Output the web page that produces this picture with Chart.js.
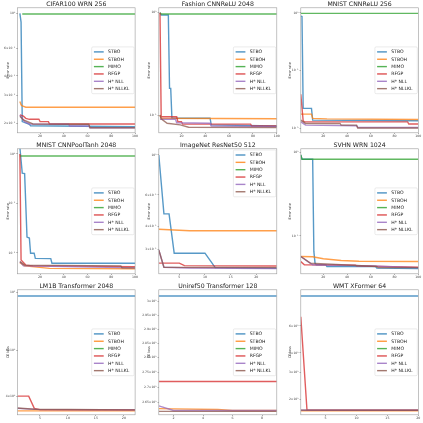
<!DOCTYPE html>
<html>
<head>
<meta charset="utf-8">
<script src="https://cdn.jsdelivr.net/npm/chart.js@4.4.1/dist/chart.umd.min.js"></script>
<style>
    html, body { margin: 0; padding: 0; background: #fff; }
    #grid { position: relative; width: 423px; height: 423px; overflow: hidden; }
    #grid canvas { position: absolute; }
</style>
</head>
<body>
<div id="grid"></div>
<script>
const seriesNames = ['STBO', 'STBOH', 'MIMO', 'RFGP', 'H* NLL', 'H* NLLKL'];
const seriesColors = ['#1f77b4', '#ff7f0e', '#2ca02c', '#d62728', '#9467bd', '#8c564b'];

// [iteration, value] pairs
const cifarStbo = [[3, 1.0], [4, 0.88], [5, 0.205], [11, 0.197], [12, 0.193], [100, 0.19]];
const cifarStboh = [[3, 0.275], [4, 0.262], [5, 0.258], [8, 0.253], [100, 0.253]];
const cifarMimo = [[5, 0.99], [100, 0.99]];
const cifarRfgp = [[3, 0.226], [6, 0.222], [8, 0.215], [11, 0.212], [19, 0.212], [20, 0.205], [27, 0.205], [28, 0.198], [100, 0.198]];
const cifarNll = [[3, 0.226], [7, 0.205], [11, 0.198], [44, 0.197], [45, 0.192], [61, 0.192], [62, 0.1875], [100, 0.1875]];
const cifarNllkl = [[3, 0.222], [6, 0.21], [14, 0.198], [61, 0.197], [62, 0.1875], [100, 0.1875]];

const fashionStbo = [[2, 1.0], [3, 0.95], [9, 0.95], [10, 0.182], [11, 0.182], [12, 0.093], [44, 0.093], [45, 0.08], [100, 0.078]];
const fashionStboh = [[2, 0.1], [3, 0.093], [100, 0.092]];
const fashionMimo = [[2, 1.0], [3, 0.97], [100, 0.97]];
const fashionRfgp = [[2, 1.0], [3, 0.096], [16, 0.096], [17, 0.086], [20, 0.086], [21, 0.0815], [78, 0.0815], [79, 0.078], [100, 0.078]];
const fashionNll = [[2, 0.091], [15, 0.091], [16, 0.084], [44, 0.083], [45, 0.078], [100, 0.077]];
const fashionNllkl = [[2, 0.1], [3, 0.092], [8, 0.083], [19, 0.08], [26, 0.076], [100, 0.0755]];

const mnistReluStbo = [[1, 0.877], [2, 0.86], [3, 0.0222], [10, 0.0222], [11, 0.0139], [100, 0.0136]];
const mnistReluStboh = [[1, 0.0177], [10, 0.0177], [11, 0.0149], [23, 0.0146], [100, 0.0143]];
const mnistReluMimo = [[1, 0.976], [100, 0.976]];
const mnistReluRfgp = [[1, 0.039], [3, 0.0135], [4, 0.013], [91, 0.013], [92, 0.0119], [100, 0.0119]];
const mnistReluNll = [[1, 0.013], [5, 0.0114], [48, 0.0111], [49, 0.0104], [100, 0.0104]];
const mnistReluNllkl = [[1, 0.0139], [5, 0.0122], [34, 0.0122], [35, 0.0114], [48, 0.0114], [49, 0.0102], [100, 0.0102]];

const mnistTanhStbo = [[3, 1.35], [5, 0.41], [7, 0.4], [9, 0.021], [11, 0.02], [12, 0.0099], [15, 0.0099], [16, 0.0078], [29, 0.0077], [30, 0.0062], [100, 0.0062]];
const mnistTanhStboh = [[3, 0.0064], [7, 0.0055], [28, 0.0049], [100, 0.0048]];
const mnistTanhMimo = [[3, 0.91], [100, 0.91]];
const mnistTanhRfgp = [[3, 1.0], [4, 0.0072], [8, 0.0057], [14, 0.0055], [100, 0.0053]];
const mnistTanhNll = [[3, 0.0067], [6, 0.0055], [100, 0.005]];
const mnistTanhNllkl = [[3, 0.0067], [7, 0.0057], [88, 0.0055], [89, 0.005], [100, 0.005]];

const imagenetStbo = [[1, 1.0], [2, 0.471], [3, 0.471], [4, 0.285], [10, 0.285], [11, 0.26], [12, 0.237], [24, 0.235]];
const imagenetStboh = [[1, 0.387], [7, 0.38], [24, 0.38]];
const imagenetMimo = [];
const imagenetRfgp = [[1, 0.251], [5, 0.251], [6, 0.243], [24, 0.242]];
const imagenetNll = [[1, 0.297], [2, 0.238], [7, 0.236], [24, 0.234]];
const imagenetNllkl = [[1, 0.297], [2, 0.238], [24, 0.237]];

const svhnStbo = [[1, 0.94], [2, 0.833], [11, 0.833], [12, 0.065], [13, 0.047], [14, 0.045], [22, 0.045], [23, 0.0428], [64, 0.0428], [65, 0.041], [100, 0.0405]];
const svhnStboh = [[1, 0.0565], [11, 0.056], [20, 0.053], [35, 0.0506], [50, 0.0495], [100, 0.0492]];
const svhnMimo = [[1, 0.94], [2, 0.833], [100, 0.833]];
const svhnRfgp = [[1, 0.049], [4, 0.0449], [47, 0.0445], [48, 0.0436], [100, 0.042]];
const svhnNll = [[1, 0.0565], [7, 0.049], [11, 0.045], [60, 0.0436], [100, 0.0415]];
const svhnNllkl = [[1, 0.0565], [9, 0.047], [65, 0.0428], [66, 0.0415], [100, 0.0415]];

const lm1bStbo = [[1, 9.71], [22, 9.71]];
const lm1bStboh = [[1, 3.51], [22, 3.51]];
const lm1bMimo = [];
const lm1bRfgp = [[1, 4.0], [3, 4.0], [4, 3.59], [5, 3.55], [22, 3.54]];
const lm1bNll = [[1, 3.59], [5, 3.55], [22, 3.54]];
const lm1bNllkl = [[1, 3.6], [4, 3.56], [22, 3.54]];

const unirefStbo = [[1, 3.021], [9, 3.021]];
const unirefStboh = [[1, 2.63], [2, 2.629], [5, 2.627], [6, 2.624], [9, 2.624]];
const unirefMimo = [];
const unirefRfgp = [[1, 2.719], [9, 2.719]];
const unirefNll = [[1, 2.639], [2, 2.624], [9, 2.624]];
const unirefNllkl = [[1, 2.621], [9, 2.621]];

const wmtStbo = [[1, 9.35], [20, 9.35]];
const wmtStboh = [[1, 1.69], [20, 1.69]];
const wmtMimo = [];
const wmtRfgp = [[1, 6.86], [2, 1.706], [20, 1.70]];
const wmtNll = [[1, 1.70], [20, 1.70]];
const wmtNllkl = [[1, 1.706], [20, 1.70]];

// axis limits and tick values
const cifarYRange = [0.174, 1.084], cifarYTicks = [1, 0.6, 0.4, 0.3, 0.2];
const fashionYRange = [0.067, 1.117], fashionYTicks = [1, 0.1];
const mnistReluYRange = [0.0084, 1.22], mnistReluYTicks = [1, 0.1, 0.01];
const mnistTanhYRange = [0.0038, 1.27], mnistTanhYTicks = [1, 0.1, 0.01];
const imagenetYRange = [0.219, 1.082], imagenetYTicks = [1, 0.6, 0.4, 0.3];
const svhnYRange = [0.035, 1.11], svhnYTicks = [1, 0.1];
const lm1bYRange = [3.39, 10.26], lm1bYTicks = [10, 6, 4];
const unirefYRange = [2.61, 3.044], unirefYTicks = [3, 2.95, 2.9, 2.85, 2.8, 2.75, 2.7, 2.65];
const wmtYRange = [1.59, 10.25], wmtYTicks = [6, 4, 3, 2];
const hundredXTicks = [20, 40, 60, 80, 100];
const fiveXTicks = [5, 10, 15, 20];
const twoXTicks = [2, 4, 6, 8];

const panels = [
    { title: 'CIFAR100 WRN 256', series: [cifarStbo, cifarStboh, cifarMimo, cifarRfgp, cifarNll, cifarNllkl], yRange: cifarYRange, yTicks: cifarYTicks, xRange: [1, 100], xTicks: hundredXTicks, yLabel: 'Error rate' },
    { title: 'Fashion CNNReLU 2048', series: [fashionStbo, fashionStboh, fashionMimo, fashionRfgp, fashionNll, fashionNllkl], yRange: fashionYRange, yTicks: fashionYTicks, xRange: [1, 100], xTicks: hundredXTicks, yLabel: 'Error rate' },
    { title: 'MNIST CNNReLU 256', series: [mnistReluStbo, mnistReluStboh, mnistReluMimo, mnistReluRfgp, mnistReluNll, mnistReluNllkl], yRange: mnistReluYRange, yTicks: mnistReluYTicks, xRange: [1, 100], xTicks: hundredXTicks, yLabel: 'Error rate' },
    { title: 'MNIST CNNPoolTanh 2048', series: [mnistTanhStbo, mnistTanhStboh, mnistTanhMimo, mnistTanhRfgp, mnistTanhNll, mnistTanhNllkl], yRange: mnistTanhYRange, yTicks: mnistTanhYTicks, xRange: [1, 100], xTicks: hundredXTicks, yLabel: 'Error rate' },
    { title: 'ImageNet ResNet50 512', series: [imagenetStbo, imagenetStboh, imagenetMimo, imagenetRfgp, imagenetNll, imagenetNllkl], yRange: imagenetYRange, yTicks: imagenetYTicks, xRange: [1, 24], xTicks: fiveXTicks, yLabel: 'Error rate', legendTop: true },
    { title: 'SVHN WRN 1024', series: [svhnStbo, svhnStboh, svhnMimo, svhnRfgp, svhnNll, svhnNllkl], yRange: svhnYRange, yTicks: svhnYTicks, xRange: [1, 100], xTicks: hundredXTicks, yLabel: 'Error rate' },
    { title: 'LM1B Transformer 2048', series: [lm1bStbo, lm1bStboh, lm1bMimo, lm1bRfgp, lm1bNll, lm1bNllkl], yRange: lm1bYRange, yTicks: lm1bYTicks, xRange: [1, 22], xTicks: fiveXTicks, yLabel: 'CE loss' },
    { title: 'Uniref50 Transformer 128', series: [unirefStbo, unirefStboh, unirefMimo, unirefRfgp, unirefNll, unirefNllkl], yRange: unirefYRange, yTicks: unirefYTicks, xRange: [1, 9], xTicks: twoXTicks, yLabel: 'CE loss' },
    { title: 'WMT XFormer 64', series: [wmtStbo, wmtStboh, wmtMimo, wmtRfgp, wmtNll, wmtNllkl], yRange: wmtYRange, yTicks: wmtYTicks, xRange: [1, 20], xTicks: fiveXTicks, yLabel: 'CE loss' }
];

// plot-area edges on the page
const colLeft = [17.5, 158.8, 300.8];
const colRight = [135.1, 276.8, 418.3];
const rowTop = [7.8, 148.8, 289.8];
const rowBottom = [132.8, 273.8, 414.8];
const CELL = 141;
const FONT = '"DejaVu Sans", sans-serif';

const sup = { '-': '⁻', '0': '⁰', '1': '¹', '2': '²', '3': '³', '4': '⁴', '5': '⁵', '6': '⁶', '7': '⁷', '8': '⁸', '9': '⁹' };
function logLabel(v) {
    const e = Math.floor(Math.log10(v) + 1e-9);
    const m = +(v / Math.pow(10, e)).toFixed(2);
    const p = '10' + String(e).split('').map(c => sup[c]).join('');
    return m === 1 ? p : m + '×' + p;
}

function withAlpha(hex, a) {
    const n = parseInt(hex.slice(1), 16);
    return `rgba(${n >> 16}, ${(n >> 8) & 255}, ${n & 255}, ${a})`;
}

// frame, title and in-axes legend
const panelDecor = {
    id: 'panelDecor',
    afterDraw(chart, args, opts) {
        const { ctx, chartArea: a } = chart;
        ctx.save();
        ctx.strokeStyle = '#9a9a9a';
        ctx.lineWidth = 0.6;
        ctx.strokeRect(a.left, a.top, a.right - a.left, a.bottom - a.top);

        ctx.fillStyle = '#1a1a1a';
        ctx.font = `6.2px ${FONT}`;
        ctx.textAlign = 'center';
        ctx.textBaseline = 'alphabetic';
        ctx.fillText(opts.title, (a.left + a.right) / 2, a.top - 1.8);

        const lw = 42.4, lh = 46.8;
        const x0 = a.right - 1.0 - lw;
        const y0 = opts.legendTop ? a.top + 1.2 : (a.top + a.bottom) / 2 - lh / 2;
        ctx.beginPath();
        ctx.roundRect(x0, y0, lw, lh, 1.2);
        ctx.fillStyle = 'rgba(255,255,255,0.85)';
        ctx.fill();
        ctx.strokeStyle = '#d6d6d6';
        ctx.lineWidth = 0.5;
        ctx.stroke();

        ctx.font = `4.6px ${FONT}`;
        ctx.textAlign = 'left';
        ctx.textBaseline = 'middle';
        seriesNames.forEach((name, i) => {
            const y = y0 + 5 + i * 7.35;
            ctx.strokeStyle = withAlpha(seriesColors[i], 0.8);
            ctx.lineWidth = 1.4;
            ctx.beginPath();
            ctx.moveTo(x0 + 2.2, y);
            ctx.lineTo(x0 + 12, y);
            ctx.stroke();
            ctx.fillStyle = '#1a1a1a';
            ctx.fillText(name, x0 + 16.3, y + 0.2);
        });
        ctx.restore();
    }
};

const grid = document.getElementById('grid');

panels.forEach((p, k) => {
    const col = k % 3, row = Math.floor(k / 3);
    const cx = col * CELL, cy = row * CELL;
    const canvas = document.createElement('canvas');
    canvas.width = CELL;
    canvas.height = CELL;
    canvas.style.left = cx + 'px';
    canvas.style.top = cy + 'px';
    canvas.style.width = CELL + 'px';
    canvas.style.height = CELL + 'px';
    grid.appendChild(canvas);

    const yAxisWidth = colLeft[col] - cx;
    const padRight = cx + CELL - colRight[col];
    const padTop = rowTop[row] - cy;
    const xAxisHeight = cy + CELL - rowBottom[row];

    new Chart(canvas.getContext('2d'), {
        type: 'line',
        data: {
            datasets: p.series.map((pts, i) => ({
                label: seriesNames[i],
                data: pts.map(([x, y]) => ({ x, y })),
                borderColor: withAlpha(seriesColors[i], 0.75),
                borderWidth: 1.4,
                pointRadius: 0,
                tension: 0,
                fill: false,
                order: -i
            }))
        },
        options: {
            responsive: false,
            devicePixelRatio: 1,
            animation: false,
            events: [],
            layout: { padding: { left: 0, top: padTop, right: padRight, bottom: 0 } },
            plugins: {
                legend: { display: false },
                title: { display: false },
                tooltip: { enabled: false },
                panelDecor: { title: p.title, legendTop: !!p.legendTop }
            },
            scales: {
                x: {
                    type: 'linear',
                    min: p.xRange[0],
                    max: p.xRange[1],
                    afterBuildTicks: ax => { ax.ticks = p.xTicks.map(v => ({ value: v })); },
                    afterFit: ax => { ax.height = xAxisHeight; },
                    grid: { drawOnChartArea: false, drawTicks: true, tickLength: 1.2, tickColor: '#555', tickWidth: 0.5 },
                    border: { display: false },
                    ticks: { font: { size: 3.2, family: FONT }, color: '#444', padding: 0.6, maxRotation: 0, autoSkip: false, callback: v => String(v) }
                },
                y: {
                    type: 'logarithmic',
                    min: p.yRange[0],
                    max: p.yRange[1],
                    afterBuildTicks: ax => { ax.ticks = p.yTicks.map(v => ({ value: v })); },
                    afterFit: ax => { ax.width = yAxisWidth; },
                    grid: { drawOnChartArea: false, drawTicks: true, tickLength: 1.2, tickColor: '#555', tickWidth: 0.5 },
                    border: { display: false },
                    title: { display: true, text: p.yLabel, font: { size: 3.4, family: FONT }, color: '#333', padding: { top: 6, bottom: 0 } },
                    ticks: { font: { size: 3.0, family: FONT }, color: '#444', padding: 1.2, autoSkip: false, callback: v => logLabel(v) }
                }
            }
        },
        plugins: [panelDecor]
    });
});
</script>
</body>
</html>
